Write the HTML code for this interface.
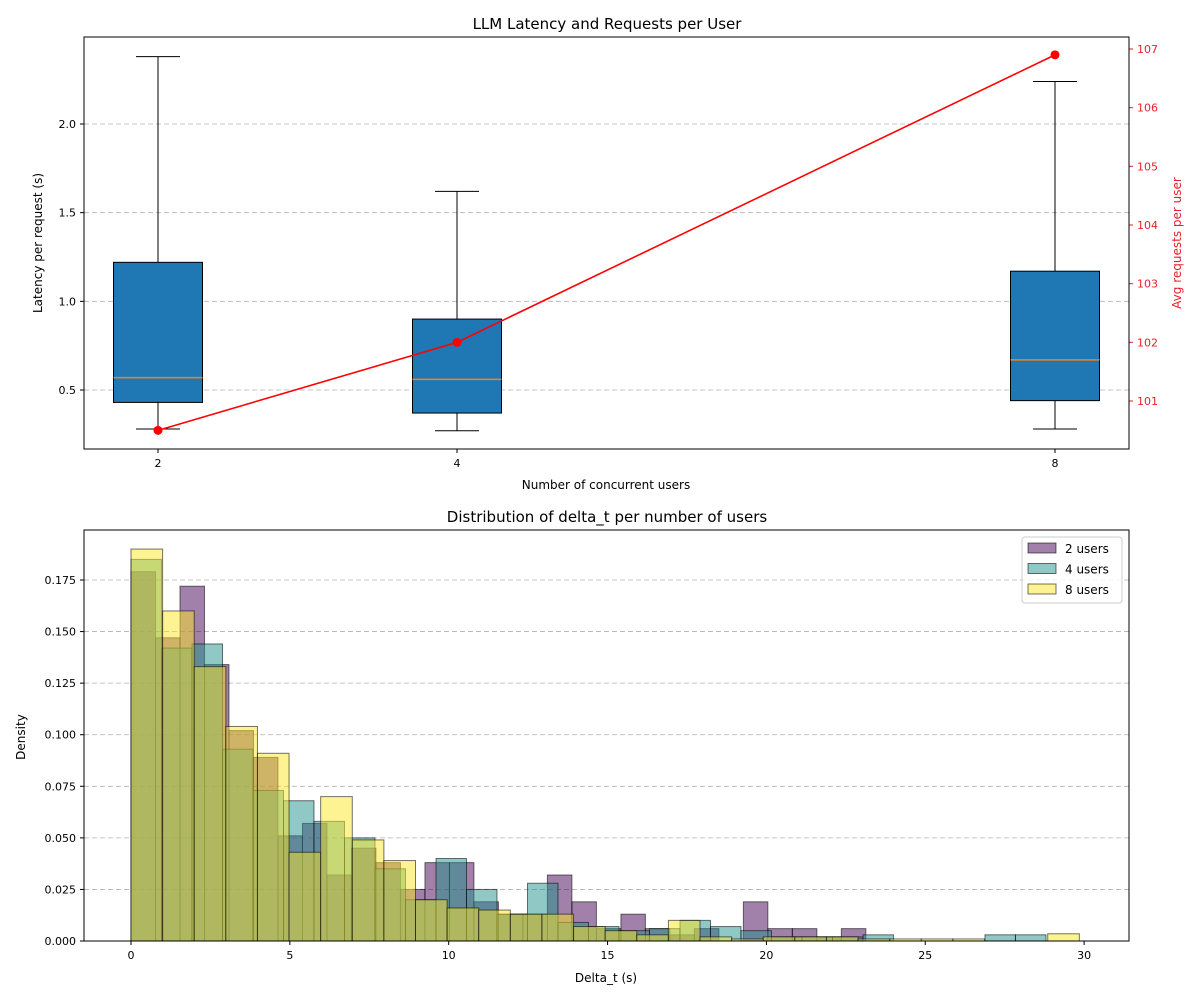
<!DOCTYPE html>
<html><head><meta charset="utf-8"><style>
body{margin:0;background:#fff;font-family:"Liberation Sans","DejaVu Sans",sans-serif}
svg text{font-family:"DejaVu Sans","Liberation Sans",sans-serif}
</style></head><body>
<svg id="c" width="1200" height="1000" xmlns="http://www.w3.org/2000/svg"></svg>
<script>
const users=[2,4,8];
const boxQ1=[0.43,0.37,0.44];
const boxQ3=[1.22,0.90,1.17];
const boxMed=[0.57,0.56,0.67];
const boxLo=[0.28,0.27,0.28];
const boxHi=[2.38,1.62,2.24];
const avgReq=[100.5,102.0,106.9];
const leftTicks=[0.5,1.0,1.5,2.0];
const rightTicks=[101,102,103,104,105,106,107];
const xTicksB=[0,5,10,15,20,25,30];
const yTicksB=[0,0.025,0.05,0.075,0.1,0.125,0.15,0.175];
const binW2=0.771, binW4=0.96, binW8=0.995;
const dens2=[0.179,0.147,0.172,0.134,0.102,0.089,0.051,0.057,0.032,0.045,0.038,0.025,0.038,0.038,0.019,0.013,0.013,0.032,0.019,0.006,0.013,0.006,0.003,0.006,0,0.019,0.006,0.006,0.002,0.006];
const dens4=[0.185,0.142,0.144,0.093,0.073,0.068,0.058,0.050,0.035,0.020,0.040,0.025,0.013,0.028,0.009,0.007,0.005,0.006,0.010,0.007,0.005,0.002,0.002,0.002,0.003,0,0,0,0.003,0.003];
const dens8=[0.190,0.160,0.133,0.104,0.091,0.043,0.070,0.049,0.039,0.020,0.016,0.015,0.013,0.013,0.007,0.005,0.003,0.010,0.002,0.001,0.002,0.002,0.002,0.001,0.001,0.001,0.001,0,0,0.0035];
const seriesLabels=["2 users","4 users","8 users"];
const seriesColors=["rgba(68,1,84,0.5)","rgba(33,145,140,0.5)","rgba(253,231,37,0.5)"];

const svg=document.getElementById('c');
const NS="http://www.w3.org/2000/svg";
function mk(t,a,txt){const e=document.createElementNS(NS,t);for(const k in a)e.setAttribute(k,a[k]);if(txt!==undefined)e.textContent=txt;svg.appendChild(e);return e;}
const tx=v=>158+(v-2)*149.5;
const ty=v=>390-(v-0.5)*177.33;
const ry=v=>401-(v-101)*58.67;
const bx=v=>131+v*31.77;
const by=v=>941-v*(51.57/0.025);

let e;
e=mk('text',{x:607,y:29,'text-anchor':'middle','font-size':15},'LLM Latency and Requests per User');

leftTicks.forEach(v=>{
 e=mk('line',{x1:84,x2:1129,y1:ty(v),y2:ty(v),stroke:'#b0b0b0','stroke-dasharray':'5,3','stroke-width':0.8});
 
 mk('line',{x1:80,x2:84,y1:ty(v),y2:ty(v),stroke:'#000'});
 e=mk('text',{x:76,y:ty(v)+4,'text-anchor':'end','font-size':11},v.toFixed(1));
 
});
rightTicks.forEach(v=>{
 mk('line',{x1:1129,x2:1133,y1:ry(v),y2:ry(v),stroke:'#e8202a'});
 e=mk('text',{x:1137,y:ry(v)+4,'font-size':11,fill:'#e8202a'},v);
 
});
users.forEach((u,i)=>{
 const cx=tx(u),hw=44.5;
 mk('line',{x1:cx,x2:cx,y1:ty(boxHi[i]),y2:ty(boxQ3[i]),stroke:'#000'});
 mk('line',{x1:cx,x2:cx,y1:ty(boxQ1[i]),y2:ty(boxLo[i]),stroke:'#000'});
 mk('line',{x1:cx-22,x2:cx+22,y1:ty(boxHi[i]),y2:ty(boxHi[i]),stroke:'#000'});
 mk('line',{x1:cx-22,x2:cx+22,y1:ty(boxLo[i]),y2:ty(boxLo[i]),stroke:'#000'});
 e=mk('rect',{x:cx-hw,y:ty(boxQ3[i]),width:2*hw,height:ty(boxQ1[i])-ty(boxQ3[i]),fill:'#1f77b4',stroke:'#000'});
 
 e=mk('line',{x1:cx-hw,x2:cx+hw,y1:ty(boxMed[i]),y2:ty(boxMed[i]),stroke:'#ff7f0e','stroke-width':1.5});
 
 mk('line',{x1:cx,x2:cx,y1:449,y2:453,stroke:'#000'});
 e=mk('text',{x:cx,y:467,'text-anchor':'middle','font-size':11},u);
 
});
e=mk('polyline',{points:users.map((u,i)=>tx(u)+','+ry(avgReq[i])).join(' '),fill:'none',stroke:'red','stroke-width':1.6});

users.forEach((u,i)=>{e=mk('circle',{cx:tx(u),cy:ry(avgReq[i]),r:4.5,fill:'red'});
 });
mk('rect',{x:84,y:37,width:1045,height:412,fill:'none',stroke:'#000'});
e=mk('text',{x:606,y:489,'text-anchor':'middle','font-size':12},'Number of concurrent users');

e=mk('text',{x:42,y:243,'text-anchor':'middle','font-size':12,transform:'rotate(-90 42 243)'},'Latency per request (s)');

e=mk('text',{x:1181,y:243,'text-anchor':'middle','font-size':12,fill:'#e8202a',transform:'rotate(-90 1181 243)'},'Avg requests per user');


e=mk('text',{x:607,y:522,'text-anchor':'middle','font-size':15},'Distribution of delta_t per number of users');

yTicksB.forEach(v=>{
 if(v>0){e=mk('line',{x1:84,x2:1129,y1:by(v),y2:by(v),stroke:'#b0b0b0','stroke-dasharray':'5,3','stroke-width':0.8});
 }
 mk('line',{x1:80,x2:84,y1:by(v),y2:by(v),stroke:'#000'});
 e=mk('text',{x:76,y:by(v)+4,'text-anchor':'end','font-size':11},v.toFixed(3));
 
});
[[dens2,binW2],[dens4,binW4],[dens8,binW8]].forEach(([d,w],s)=>{
 d.forEach((v,i)=>{
  if(v<=0)return;
  e=mk('rect',{x:bx(i*w),y:by(v),width:bx((i+1)*w)-bx(i*w),height:by(0)-by(v),fill:seriesColors[s],stroke:'rgba(0,0,0,0.55)','stroke-width':1});
  
 });
});
xTicksB.forEach(v=>{
 mk('line',{x1:bx(v),x2:bx(v),y1:941,y2:945,stroke:'#000'});
 e=mk('text',{x:bx(v),y:959,'text-anchor':'middle','font-size':11},v);
 
});
mk('rect',{x:84,y:530,width:1045,height:411,fill:'none',stroke:'#000'});
e=mk('text',{x:606,y:982,'text-anchor':'middle','font-size':12},'Delta_t (s)');

e=mk('text',{x:25,y:737,'text-anchor':'middle','font-size':12,transform:'rotate(-90 25 737)'},'Density');

e=mk('rect',{x:1022,y:537,width:100,height:66,rx:3,fill:'rgba(255,255,255,0.8)',stroke:'#ccc'});

seriesLabels.forEach((l,i)=>{
 const yy=543+i*20.5;
 mk('rect',{x:1028,y:yy,width:28,height:10,fill:seriesColors[i],stroke:'rgba(0,0,0,0.55)'});
 e=mk('text',{x:1065,y:yy+10,'font-size':12},l);
 
});
</script>
</body></html>
